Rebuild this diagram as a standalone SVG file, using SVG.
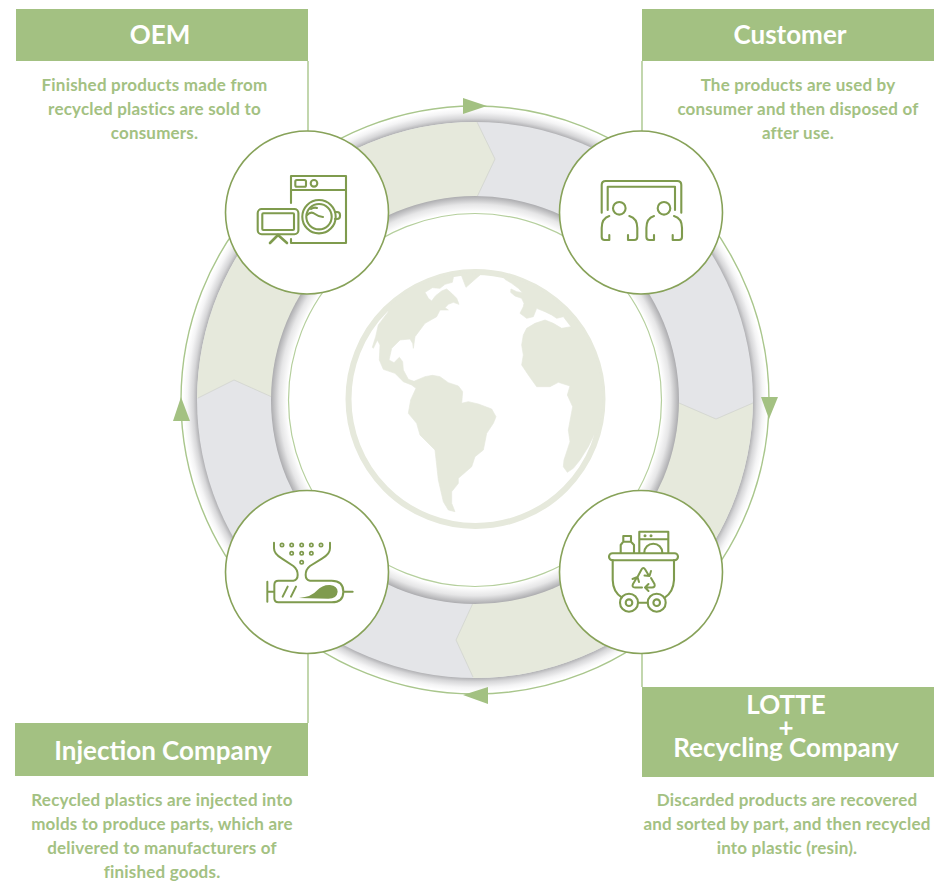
<svg xmlns="http://www.w3.org/2000/svg" width="936" height="886" viewBox="0 0 936 886">
<defs>
<radialGradient id="bandOuter" gradientUnits="userSpaceOnUse" cx="475" cy="400" r="292">
<stop offset="0.95" stop-color="#acacaf"/><stop offset="0.965" stop-color="#d6d6d8"/><stop offset="0.985" stop-color="#f4f4f5"/><stop offset="1" stop-color="#ffffff"/>
</radialGradient>
<radialGradient id="bandInner" gradientUnits="userSpaceOnUse" cx="475" cy="400" r="204">
<stop offset="0.92" stop-color="#ffffff"/><stop offset="0.96" stop-color="#e6e6e7"/><stop offset="0.985" stop-color="#c2c2c4"/><stop offset="1" stop-color="#acacaf"/>
</radialGradient>
<clipPath id="band"><circle cx="475" cy="400" r="278"/></clipPath>
<style>
.head{fill:#a3c182}
.link{fill:none;stroke:#a9c68c;stroke-width:1.4}
.arrow{fill:#a3c182}
.disc{fill:#fff;stroke:#87a259;stroke-width:1.6}
.ico{fill:none;stroke:#7f9b4e;stroke-width:2.1;stroke-linecap:round;stroke-linejoin:round}
.h{font-family:"Lato","Liberation Sans",sans-serif;font-weight:700;font-size:26px;fill:#fff;text-anchor:middle}
.d{font-family:"Lato","Liberation Sans",sans-serif;font-weight:700;font-size:17px;letter-spacing:.2px;fill:#a3c182;text-anchor:middle}
.land{fill:#e6e9dc;stroke:#e6e9dc;stroke-width:2;stroke-linejoin:round}
.seam{fill:none;stroke:#cfd1cc;stroke-width:.7}
</style>
</defs>
<rect width="936" height="886" fill="#fff"/>
<g id="ring">
<circle cx="475" cy="400" r="292" fill="url(#bandOuter)"/>
<circle cx="475" cy="400" r="278" fill="#e4e5e8"/>
<g clip-path="url(#band)">
<polygon points="477,122 495,159 477,197 475,400 272,397 234,380 198,398 100,398 100,60 477,60" fill="#e6e9dc"/>
<polygon points="679,403 716,419 753,403 850,403 850,740 473,740 473,677 456,640 473,603 475,400" fill="#e6e9dc"/>
<polyline class="seam" points="477,122 495,159 477,197"/>
<polyline class="seam" points="679,403 716,419 753,403"/>
<polyline class="seam" points="473,603 456,640 473,677"/>
<polyline class="seam" points="198,398 234,380 272,397"/>
</g>
<circle cx="475" cy="400" r="204" fill="url(#bandInner)"/>
<circle cx="475" cy="400" r="186.500" fill="#fff" stroke="#b5cf9d" stroke-width="1.200"/>
</g>
<g id="globe" transform="translate(340,260) scale(0.33333)">
<circle cx="406.500" cy="417" r="381" fill="none" stroke="#e6e9dc" stroke-width="18"/>
<path class="land" d="M145,155 L137,148 A381 381 0 0 1 340,42 L340,53 L337,67 L315,73 L300,85 L277,83 L255,97 L265,115 L275,123 L287,107 L305,93 L320,87 L335,100 L350,115 L357,133 L340,127 L325,133 L315,143 L325,150 L300,150 L290,170 L255,190 L225,230 L220,265 L218,250 L210,237 L180,240 L155,265 L147,300 L162,308 L178,292 L188,305 L190,330 L205,358 L222,364 L255,350 L277,346 L300,350 L325,368 L355,378 L368,395 L365,430 L385,425 L415,432 L455,447 L468,470 L460,490 L440,520 L430,570 L405,590 L395,620 L355,655 L355,670 L335,695 L335,730 L345,755 L325,750 L310,725 L295,660 L285,570 L240,525 L230,490 L205,460 L212,420 L228,385 L215,375 L190,365 L165,340 L130,328 L118,300 L120,255 L112,240 L100,265 L97,262 L107,230 L115,195 Z"/>
<polygon class="land" points="360,35 378,82 420,45"/>
<path class="land" d="M490,45 A381 381 0 0 1 773,523 L762,525 L745,560 L720,600 L700,625 L682,637 L670,620 L672,600 L690,545 L685,510 L698,440 L682,405 L690,378 L655,367 L630,380 L590,380 L565,345 L545,315 L550,285 L545,255 L550,225 L560,205 L585,190 L615,180 L640,190 L665,205 L693,200 L670,170 L650,175 L635,165 L615,155 L590,145 L580,170 L560,175 L540,160 L550,140 L552,130 L545,115 L525,108 L512,97 L513,87 L530,95 L548,98 L535,85 L515,70 L495,58 Z"/>
</g>
<g id="connectors">
<circle class="link" cx="475" cy="400" r="294"/>
<path class="link" d="M308,61V131M642,61V131M642,653V687M308,653V723"/>
<polygon class="arrow" points="463,98 487,106 463,114"/>
<polygon class="arrow" points="761,397 778,397 769,419"/>
<polygon class="arrow" points="463,695 488,687 488,704"/>
<polygon class="arrow" points="181,397 173,421 190,421"/>
</g>
<g id="node-oem">
<rect class="head" x="16" y="9" width="292" height="52"/>
<text class="h" x="160" y="44">OEM</text>
<text class="d" x="154.500" y="91">Finished products made from</text>
<text class="d" x="154.500" y="115">recycled plastics are sold to</text>
<text class="d" x="154.500" y="139">consumers.</text>
<circle class="disc" cx="307" cy="212.500" r="81.500"/>
<path class="ico" d="M291,203V176H346V243H291V239M291,190H346"/>
<rect class="ico" x="295.300" y="180" width="10.700" height="6.700" rx="1.500"/>
<circle class="ico" cx="314" cy="183.300" r="3.300"/>
<circle class="ico" cx="319" cy="216.700" r="16.700"/>
<circle class="ico" cx="319" cy="216.700" r="12.700"/>
<path class="ico" d="M335,212h2q3,0 3,3v1q0,3 -3,3h-2M307,215q4,-4 8,-1t8,3M311,209q3,-2 6,-1"/>
<rect class="ico" x="257.700" y="209" width="40.700" height="25.300" rx="4" style="fill:#fff"/>
<rect class="ico" x="262.300" y="213.300" width="31.700" height="16.700" rx="1"/>
<path class="ico" style="stroke-width:2.600" d="M278,235L270,243M278,235L287,243"/>
</g>
<g id="node-customer">
<rect class="head" x="642" y="9" width="292" height="52"/>
<text class="h" x="790" y="44">Customer</text>
<text class="d" x="798" y="91">The products are used by</text>
<text class="d" x="798" y="115">consumer and then disposed of</text>
<text class="d" x="798" y="139">after use.</text>
<circle class="disc" cx="641" cy="212.500" r="81.500"/>
<path class="ico" d="M601.700,212.700V185q0,-4 4,-4H677.300q4,0 4,4V212.700M607.700,210V186.700H675V210"/>
<circle class="ico" cx="619.300" cy="208.300" r="6.300"/>
<path class="ico" d="M609.300,216Q601.700,218.300 601.700,228V237q0,3 3,3H609.300V235M629.300,216Q637.300,218.300 637.300,228V237q0,3 -3,3H628V235"/>
<g transform="translate(44.700,0)">
<circle class="ico" cx="619.300" cy="208.300" r="6.300"/>
<path class="ico" d="M609.300,216Q601.700,218.300 601.700,228V237q0,3 3,3H609.300V235M629.300,216Q637.300,218.300 637.300,228V237q0,3 -3,3H628V235"/>
</g>
</g>
<g id="node-recycling">
<rect class="head" x="642" y="687" width="292" height="90"/>
<text class="h" x="786" y="714">LOTTE</text>
<text class="h" x="786" y="737">+</text>
<text class="h" x="786" y="757">Recycling Company</text>
<text class="d" x="787" y="806">Discarded products are recovered</text>
<text class="d" x="787" y="830">and sorted by part, and then recycled</text>
<text class="d" x="787" y="854">into plastic (resin).</text>
<circle class="disc" cx="641" cy="572" r="81.500"/>
<rect class="ico" x="609" y="553.300" width="69" height="7" rx="3.500"/>
<path class="ico" d="M612.700,560V580Q613,592 621.700,597.300M674,560V580Q673.300,592 665,597.300M638,602.700H647.700"/>
<circle class="ico" cx="629" cy="602.700" r="9"/>
<circle class="ico" cx="629" cy="602.700" r="3.300"/>
<circle class="ico" cx="656.700" cy="602.700" r="9"/>
<circle class="ico" cx="656.700" cy="602.700" r="3.300"/>
<path class="ico" d="M620.700,552.700V545L623.300,541.700V536H631V541.700L634,545V552.700M623.300,541.700H631M639.300,552.700V531.700H668.300V552.700M639.300,539.300H668.300M644.300,552.700A9,9 0 0 1 662.300,552.700"/>
<circle cx="645" cy="535.700" r="1.500" fill="#7f9b4e"/>
<circle cx="651" cy="535.700" r="1.500" fill="#7f9b4e"/>
<path class="ico" style="stroke-width:2" d="M637.500,577L641.500,569.500Q643.300,566.500 645.200,569.500L648.500,575M644.500,575.500L649.500,576L651,571M651,578L654.500,584Q655.500,587.500 652,587.500H646M648.500,584L645,587.500L648.500,591M642,587.500H635Q631.500,587.500 633,584L636,579M632.500,579L637.500,577L639,582"/>
</g>
<g id="node-injection">
<rect class="head" x="15" y="723" width="293" height="53"/>
<text class="h" x="163" y="760">Injection Company</text>
<text class="d" x="162" y="806">Recycled plastics are injected into</text>
<text class="d" x="162" y="830">molds to produce parts, which are</text>
<text class="d" x="162" y="854">delivered to manufacturers of</text>
<text class="d" x="162" y="878">finished goods.</text>
<circle class="disc" cx="307" cy="572" r="81.500"/>
<g transform="translate(215,480) scale(0.33333)">
<path class="ico" style="stroke-width:6" d="M177,188V205Q177,222 200,235L235,258Q248,268 248,285Q248,300 235,302H190Q178,302 178,315V355Q178,367 190,367H350Q385,367 385,335Q385,302 350,302H285Q272,300 272,285Q272,268 285,258L322,235Q345,222 345,205V188M178,335H157M157,305V365M385,335H413M203,350L218,320M228,350L243,320"/>
<path d="M252,354Q290,350 305,332Q322,314 345,315Q368,318 368,335Q366,356 340,356Z" fill="#7f9b4e"/>
<g class="ico" style="stroke-width:5">
<circle cx="201" cy="195" r="5"/><circle cx="230" cy="195" r="5"/><circle cx="260" cy="195" r="5"/><circle cx="289" cy="195" r="5"/><circle cx="318" cy="195" r="5"/>
<circle cx="230" cy="220" r="5"/><circle cx="260" cy="220" r="5"/><circle cx="289" cy="220" r="5"/>
<circle cx="260" cy="247" r="5"/>
</g>
</g>
</g>
</svg>
